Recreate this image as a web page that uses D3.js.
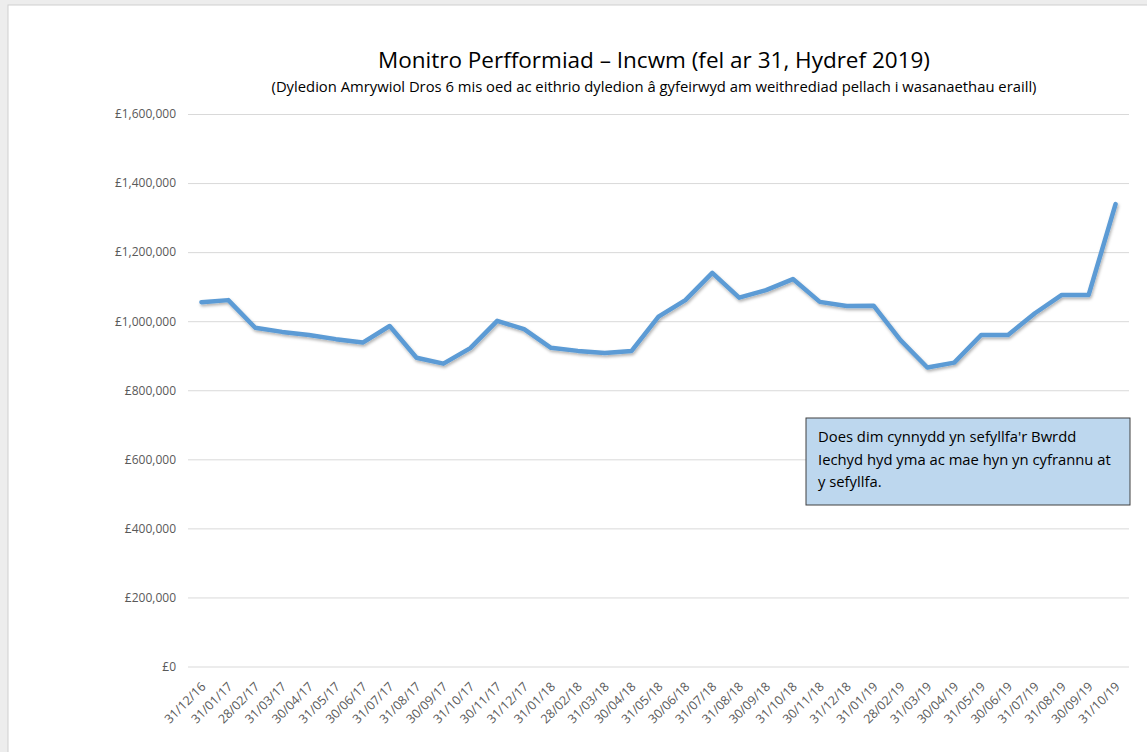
<!DOCTYPE html>
<html lang="cy">
<head>
<meta charset="utf-8">
<title>Monitro Perfformiad – Incwm</title>
<style>
  body { margin: 0; background: #ffffff; }
  svg { display: block; }
  .ylab text, .xlab text { font-family: "Open Sans", "Noto Sans", sans-serif; fill: #595959; }
</style>
</head>
<body>
<div id="chart"></div>
<script src="https://d3js.org/d3.v7.min.js"></script>
<script>
// month-end dates
var dates = ["31/12/16","31/01/17","28/02/17","31/03/17","30/04/17","31/05/17","30/06/17","31/07/17",
  "31/08/17","30/09/17","31/10/17","30/11/17","31/12/17","31/01/18","28/02/18","31/03/18","30/04/18",
  "31/05/18","30/06/18","31/07/18","31/08/18","30/09/18","31/10/18","30/11/18","31/12/18","31/01/19",
  "28/02/19","31/03/19","30/04/19","31/05/19","30/06/19","31/07/19","31/08/19","30/09/19","31/10/19"];

// debt over 6 months (£)
var debt = [1055000,1061000,981000,969000,960000,948000,938000,986000,
  894000,877000,922000,1001000,977000,923000,914000,908000,914000,
  1013000,1061000,1140000,1068000,1090000,1122000,1056000,1044000,1045000,
  945000,866000,880000,960000,960000,1023000,1076000,1076000,1339000];

var yTicks = [0,200000,400000,600000,800000,1000000,1200000,1400000,1600000];

var title = "Monitro Perfformiad – Incwm (fel ar 31, Hydref 2019)";
var subtitle = "(Dyledion Amrywiol Dros 6 mis oed ac eithrio dyledion â gyfeirwyd am weithrediad pellach i wasanaethau eraill)";
var note = ["Does dim cynnydd yn sefyllfa'r Bwrdd", "Iechyd hyd yma ac mae hyn yn cyfrannu at", "y sefyllfa."];

var W = 1147, H = 752;
var plot = {left: 188, right: 1129, top: 114, bottom: 666.5};

var svg = d3.select("#chart").append("svg")
  .attr("width", W).attr("height", H);

// frame
svg.append("rect").attr("width", W).attr("height", H).attr("fill", "#ededed");
svg.append("rect").attr("x", 8).attr("y", 5).attr("width", W).attr("height", H)
  .attr("fill", "#ffffff").attr("stroke", "#d0d0d0");

var defs = svg.append("defs");
var f = defs.append("filter").attr("id", "shadow").attr("x", "-5%").attr("y", "-20%").attr("width", "110%").attr("height", "140%");
f.append("feDropShadow").attr("dx", 1).attr("dy", 2).attr("stdDeviation", 1.5)
  .attr("flood-color", "#000").attr("flood-opacity", 0.3);

var x = d3.scaleBand().domain(dates).range([plot.left, plot.right]);
var y = d3.scaleLinear().domain([0, 1600000]).range([plot.bottom, plot.top]);

// gridlines + y labels
var fmt = function(v) { return "£" + d3.format(",")(v); };
var yAxis = svg.append("g").attr("class", "ylab")
  .attr("transform", "translate(" + plot.left + ",0)")
  .call(d3.axisLeft(y).tickValues(yTicks).tickFormat(fmt)
    .tickSize(-(plot.right - plot.left)).tickPadding(12));
yAxis.select(".domain").remove();
yAxis.selectAll("line").attr("stroke", "#d9d9d9");
yAxis.selectAll("text").style("font-size", "12px");

// x labels
var xAxis = svg.append("g").attr("class", "xlab")
  .attr("transform", "translate(0," + plot.bottom + ")")
  .call(d3.axisBottom(x).tickSize(0).tickPadding(0));
xAxis.select(".domain").remove();
xAxis.selectAll("text")
  .style("font-size", "12.5px")
  .attr("text-anchor", "end")
  .attr("dy", null)
  .attr("transform", "translate(5,21) rotate(-45)");

// line
var line = d3.line()
  .x(function(d, i) { return x(dates[i]) + x.bandwidth() / 2; })
  .y(function(d) { return y(d); });

svg.append("path")
  .datum(debt)
  .attr("d", line)
  .attr("fill", "none")
  .attr("stroke", "#5b9bd5")
  .attr("stroke-width", 4.5)
  .attr("stroke-linejoin", "round")
  .attr("stroke-linecap", "round")
  .attr("filter", "url(#shadow)");

// titles
svg.append("text")
  .attr("x", 654).attr("y", 68)
  .attr("text-anchor", "middle")
  .style("font-family", "'Open Sans', sans-serif")
  .style("font-size", "22.5px")
  .attr("fill", "#000")
  .text(title);

svg.append("text")
  .attr("x", 654).attr("y", 92)
  .attr("text-anchor", "middle")
  .style("font-family", "'Open Sans', sans-serif")
  .style("font-size", "14.8px")
  .attr("fill", "#000")
  .text(subtitle);

// note box
var box = svg.append("g").attr("transform", "translate(806,418)");
box.append("rect").attr("width", 324).attr("height", 87)
  .attr("fill", "#bdd7ee").attr("stroke", "#404040").attr("stroke-width", 1);
box.selectAll("text.note").data(note).enter().append("text")
  .attr("class", "note")
  .attr("x", 12)
  .attr("y", function(d, i) { return 24 + i * 22.5; })
  .style("font-family", "'Open Sans', sans-serif")
  .style("font-size", "14.8px")
  .attr("fill", "#000")
  .text(function(d) { return d; });
</script>
</body>
</html>
